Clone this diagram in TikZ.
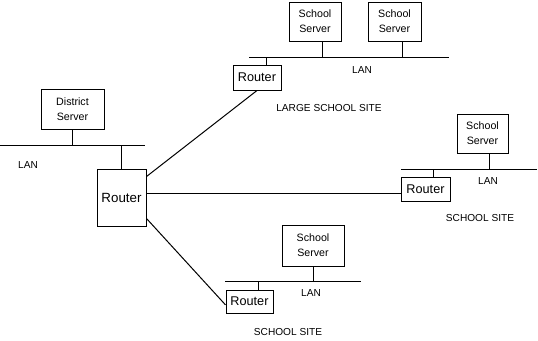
\documentclass[tikz,border=0pt]{standalone}
\usepackage{fontspec}
\setmainfont{Liberation Sans}
\usetikzlibrary{calc}

\begin{document}
\begin{tikzpicture}[x=0.75pt,y=-0.75pt,line width=0.75pt,
  box/.style={draw,inner sep=0pt,align=center},
  srvbox/.style={box,font=\fontsize{8}{11.25}\selectfont},
  rtrbox/.style={box,font=\fontsize{9.5}{11}\selectfont},
  lanlabel/.style={inner sep=0pt,font=\fontsize{7.6}{9}\selectfont}]
  \useasboundingbox (0,0) rectangle (538,340);

  % district site
  \node[srvbox,minimum width=47.25pt,minimum height=30pt] (dsrv) at (72.5,109) {District\\Server};
  \node[box,font=\fontsize{10}{12}\selectfont,minimum width=36.75pt,minimum height=42.75pt]
      (drtr) at (121.5,197.5) {Router};
  \draw (0,145) coordinate (dlanL) -- (145,145) coordinate (dlanR);
  \node[lanlabel] (dlan) at (28,165) {LAN};
  \draw (dsrv.south) -- (dsrv.south |- dlanL);
  \draw (drtr.north) -- (drtr.north |- dlanL);

  % large school site
  \node[srvbox,minimum width=39pt,minimum height=29.25pt] (lsrvA) at (315,21.5) {School\\Server};
  \node[srvbox,minimum width=39.75pt,minimum height=29.25pt] (lsrvB) at (394.5,21.5) {School\\Server};
  \node[rtrbox,minimum width=36pt,minimum height=18.75pt] (lrtr) at (257,77.5) {Router};
  \draw (249,57) coordinate (llanL) -- (449,57) coordinate (llanR);
  \coordinate (ltapA) at (322,57);
  \coordinate (ltapB) at (402,57);
  \coordinate (ltapR) at (266,57);
  \draw (ltapA) -- (ltapA |- lsrvA.south);
  \draw (ltapB) -- (ltapB |- lsrvB.south);
  \draw (ltapR) -- (ltapR |- lrtr.north);
  \node[lanlabel] (llan) at (362,70) {LAN};
  \node[lanlabel] (lsite) at (329,108) {LARGE SCHOOL SITE};

  % school site, right
  \node[srvbox,minimum width=38.25pt,minimum height=29.25pt] (rsrv) at (482.5,133.5) {School\\Server};
  \node[rtrbox,minimum width=36.75pt,minimum height=18pt] (rrtr) at (425.5,189) {Router};
  \draw (401,169) coordinate (rlanL) -- (537,169) coordinate (rlanR);
  \coordinate (rtapS) at (489,169);
  \coordinate (rtapR) at (433,169);
  \draw (rtapS) -- (rtapS |- rsrv.south);
  \draw (rtapR) -- (rtapR |- rrtr.north);
  \node[lanlabel] (rlan) at (488,181) {LAN};
  \node[lanlabel] (rsite) at (480,218) {SCHOOL SITE};

  % school site, bottom
  \node[srvbox,minimum width=46.5pt,minimum height=30.75pt] (bsrv) at (313,245.5) {School\\Server};
  \node[rtrbox,minimum width=35.25pt,minimum height=17.25pt] (brtr) at (249.5,301.5) {Router};
  \draw (225,281) coordinate (blanL) -- (361,281) coordinate (blanR);
  \coordinate (btapR) at (258,281);
  \draw (bsrv.south) -- (bsrv.south |- blanL);
  \draw (btapR) -- (btapR |- brtr.north);
  \node[lanlabel] (blan) at (311,293) {LAN};
  \node[lanlabel] (bsite) at (288,332) {SCHOOL SITE};

  % links from the district router
  \draw (drtr.40) -- (lrtr.south);
  \draw ([yshift=-3pt]rrtr.west) -- ([yshift=-3pt]rrtr.west -| drtr.east);
  \draw (drtr.-40) -- (brtr.188);
\end{tikzpicture}
\end{document}
